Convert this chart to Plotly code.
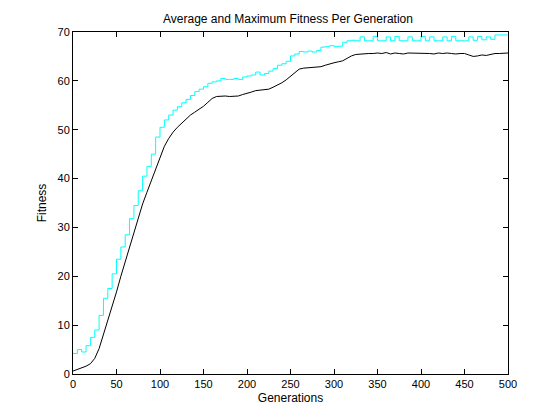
import plotly.graph_objects as go

# generations sampled every 5
generations = list(range(0, 501, 5))

avg_fitness = [
    0.6, 0.9, 1.2, 1.6, 2.1, 3.2, 5.2, 8.0, 10.8, 13.8,
    16.8, 20.0, 23.0, 25.8, 29.0, 32.0, 34.8, 37.2, 39.5, 42.0,
    44.5, 46.6, 48.2, 49.5, 50.5, 51.4, 52.2, 53.0, 53.6, 54.2,
    54.8, 55.6, 56.4, 56.8, 56.9, 56.9, 56.8, 56.8, 56.9, 57.2,
    57.4, 57.7, 58.0, 58.1, 58.1, 58.3, 58.7, 59.1, 59.6, 60.2,
    61.0, 61.8, 62.4, 62.6, 62.7, 62.8, 62.9, 62.9, 63.2, 63.5,
    63.7, 63.9, 64.1, 64.6, 65.1, 65.4, 65.5, 65.6, 65.6, 65.6,
    65.7, 65.6, 65.8, 65.5, 65.7, 65.6, 65.5, 65.7, 65.7, 65.6,
    65.6, 65.7, 65.6, 65.5, 65.7, 65.6, 65.7, 65.6, 65.5, 65.6,
    65.6, 65.3, 65.0, 65.1, 65.3, 65.2, 65.4, 65.6, 65.6, 65.6,
    65.7,
]

max_fitness = [
    4.2, 5.0, 4.5, 5.8, 7.5, 9.0, 12.0, 15.5, 17.5, 20.5,
    23.5, 26.0, 28.5, 31.8, 34.5, 37.5, 40.5, 42.5, 45.0, 48.5,
    50.5, 52.0, 53.0, 54.0, 54.7, 55.5, 56.2, 57.0, 57.8, 58.3,
    58.8, 59.5, 59.8, 60.0, 60.5, 60.3, 60.3, 60.5, 60.3, 60.8,
    61.0, 61.2, 61.8, 61.2, 61.5, 62.0, 62.5, 63.2, 63.5, 64.0,
    65.1, 65.5, 66.0, 65.9, 66.1, 65.9, 66.2, 66.9, 67.0, 67.2,
    67.0, 67.1, 67.9, 68.2, 68.3, 68.2, 69.0, 68.2, 68.2, 69.1,
    68.2, 68.2, 69.0, 68.2, 69.1, 68.2, 68.2, 69.0, 68.2, 68.2,
    69.1, 68.2, 69.0, 68.2, 68.2, 69.0, 68.2, 69.1, 68.2, 68.2,
    68.2, 69.0, 68.3, 69.1, 68.4, 69.0, 68.5, 69.4, 69.4, 69.4,
    69.4,
]

x_ticks = list(range(0, 501, 50))
y_ticks = list(range(0, 71, 10))

fig = go.Figure()
fig.add_trace(go.Scatter(x=generations, y=max_fitness, mode="lines",
                         line=dict(color="#00ffff", width=1, shape="hv")))
fig.add_trace(go.Scatter(x=generations, y=avg_fitness, mode="lines",
                         line=dict(color="black", width=1)))

axis_style = dict(showline=True, linecolor="black", linewidth=1, mirror="ticks",
                  ticks="inside", ticklen=5, tickcolor="black", showgrid=False,
                  zeroline=False, tickfont=dict(family="Liberation Sans", size=11, color="black"))

fig.update_xaxes(range=[0, 500], tickvals=x_ticks,
                 title=dict(text="Generations", font=dict(family="Liberation Sans", size=12, color="black"), standoff=4),
                 **axis_style)
fig.update_yaxes(range=[0, 70], tickvals=y_ticks,
                 title=dict(text="Fitness", font=dict(family="Liberation Sans", size=12, color="black"), standoff=8),
                 **axis_style)

# page body adds ~8px offset, so margins are shifted to line up the plot box
fig.update_layout(
    width=560, height=420,
    showlegend=False,
    plot_bgcolor="white", paper_bgcolor="white",
    margin=dict(l=65, r=60, t=24, b=54),
    title=dict(text="Average and Maximum Fitness Per Generation",
               font=dict(family="Liberation Sans", size=12, color="black"),
               x=0.5, xanchor="center", y=0.974, yanchor="middle"),
)

fig.write_html("out.html")
